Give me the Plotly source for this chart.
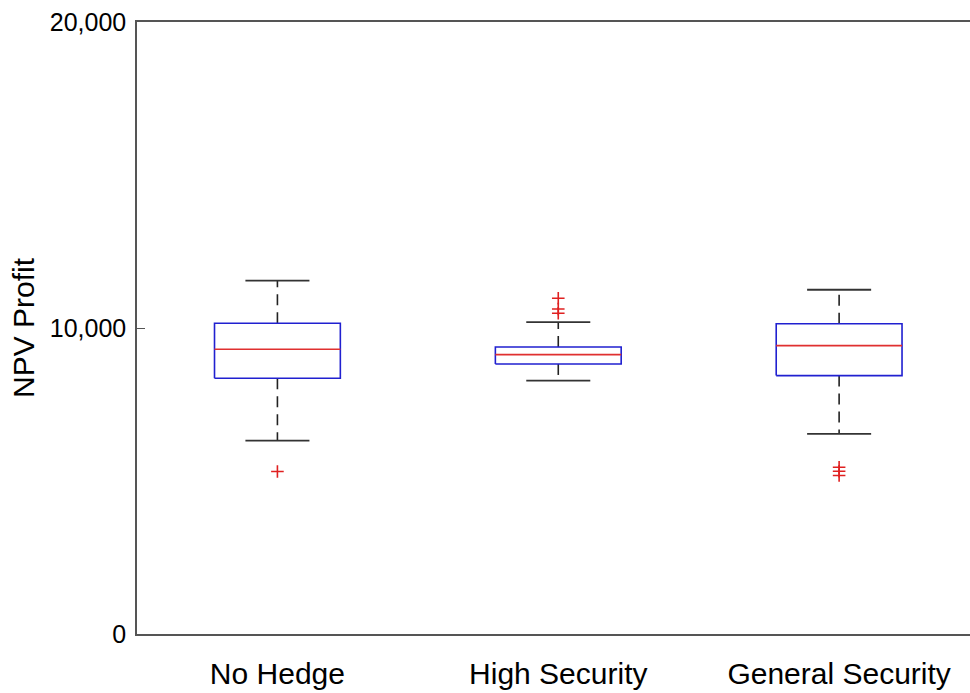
import plotly.graph_objects as go

# Summary statistics of NPV profit for each hedging strategy
categories = ["No Hedge", "High Security", "General Security"]
lower_whisker = [6320, 8280, 6540]
q1 = [8360, 8825, 8445]
median = [9305, 9130, 9425]
q3 = [10155, 9380, 10140]
upper_whisker = [11545, 10190, 11250]
outliers = [
    [5310],
    [10970, 10620, 10480],
    [5450, 5320, 5180],
]
y_ticks = [0, 10000, 20000]
y_tick_labels = ["0", "10,000", "20,000"]

BOX_HALF = 0.224
CAP_HALF = 0.114
positions = [i + 1 for i in range(len(categories))]

box_x, box_y = [], []
med_x, med_y = [], []
wh_x, wh_y = [], []
cap_x, cap_y = [], []
out_x, out_y = [], []
for p, lo, a, m, b, hi, outs in zip(positions, lower_whisker, q1, median, q3,
                                     upper_whisker, outliers):
    box_x += [p - BOX_HALF, p + BOX_HALF, p + BOX_HALF, p - BOX_HALF, p - BOX_HALF, None]
    box_y += [a, a, b, b, a, None]
    med_x += [p - BOX_HALF, p + BOX_HALF, None]
    med_y += [m, m, None]
    wh_x += [p, p, None, p, p, None]
    wh_y += [b, hi, None, a, lo, None]
    cap_x += [p - CAP_HALF, p + CAP_HALF, None, p - CAP_HALF, p + CAP_HALF, None]
    cap_y += [hi, hi, None, lo, lo, None]
    out_x += [p] * len(outs)
    out_y += list(outs)

fig = go.Figure()
fig.add_trace(go.Scatter(x=wh_x, y=wh_y, mode="lines",
                         line=dict(color="#222222", width=1.6, dash="11px,7px"),
                         hoverinfo="skip"))
fig.add_trace(go.Scatter(x=cap_x, y=cap_y, mode="lines",
                         line=dict(color="#333333", width=1.8), hoverinfo="skip"))
fig.add_trace(go.Scatter(x=box_x, y=box_y, mode="lines",
                         line=dict(color="#2020d0", width=1.6), hoverinfo="skip"))
fig.add_trace(go.Scatter(x=med_x, y=med_y, mode="lines",
                         line=dict(color="#e03030", width=1.6), hoverinfo="skip"))
fig.add_trace(go.Scatter(x=out_x, y=out_y, mode="markers",
                         marker=dict(symbol="cross-thin", size=9,
                                     line=dict(color="#e02020", width=1.6)),
                         hoverinfo="skip"))

fig.update_layout(
    width=970, height=693,
    margin=dict(l=137, r=0, t=22, b=59),
    paper_bgcolor="white", plot_bgcolor="white",
    showlegend=False,
    font=dict(family="Liberation Sans, Arial, sans-serif", color="black"),
)
fig.update_xaxes(
    range=[0.5, 3.466],
    tickvals=positions, ticktext=categories,
    tickfont=dict(size=30),
    ticks="", ticklabelstandoff=12,
    showgrid=False, zeroline=False,
    showline=True, linecolor="#555555", linewidth=1.5, mirror=True,
)
fig.update_yaxes(
    range=[0, 20000],
    tickvals=y_ticks, ticktext=y_tick_labels,
    tickfont=dict(size=25),
    ticks="inside", ticklen=8, tickcolor="#555555", tickwidth=1.3,
    ticklabelstandoff=4,
    showgrid=False, zeroline=False,
    showline=True, linecolor="#555555", linewidth=1.5, mirror=False,
    title=dict(text="NPV Profit", font=dict(size=30), standoff=6),
)

fig.write_html("out.html")
